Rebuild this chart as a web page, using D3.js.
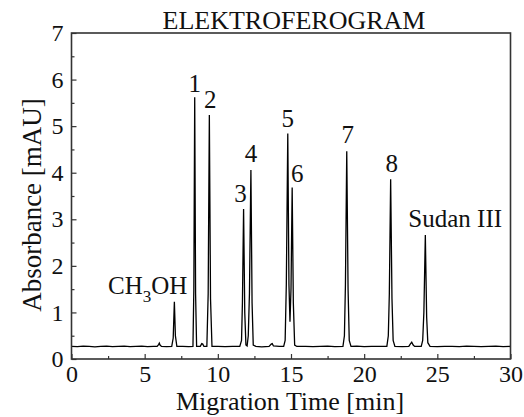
<!DOCTYPE html>
<html>
<head>
<meta charset="utf-8">
<script src="https://cdn.jsdelivr.net/npm/d3@7"></script>
<style>
  html, body { margin: 0; padding: 0; background: #fff; }
  svg { display: block; }
  text { font-family: "Liberation Serif", "Times New Roman", serif; fill: #111; }
</style>
</head>
<body>
<svg id="chart" width="524" height="417"></svg>
<script>
// Electropherogram trace: [migration time (min), absorbance (mAU)]
const trace = [
  [0.0,0.27],[0.4,0.265],[0.8,0.275],[1.2,0.27],[1.6,0.262],[2.0,0.27],[2.4,0.276],
  [2.8,0.265],[3.2,0.27],[3.6,0.275],[4.0,0.265],[4.4,0.27],[4.8,0.276],[5.2,0.265],
  [5.6,0.27],[5.85,0.27],[5.95,0.31],[6.0,0.34],[6.05,0.3],[6.15,0.27],[6.5,0.265],
  [6.85,0.27],[6.95,0.45],[7.03,1.23],[7.1,0.5],[7.2,0.27],[7.6,0.272],[8.0,0.265],
  [8.3,0.27],[8.36,1.5],[8.42,5.62],[8.48,1.4],[8.55,0.27],[8.8,0.27],[8.9,0.33],
  [8.97,0.32],[9.05,0.27],[9.25,0.27],[9.34,1.4],[9.42,5.24],[9.5,1.3],[9.6,0.27],
  [10.0,0.272],[10.5,0.265],[11.0,0.27],[11.5,0.27],[11.62,0.4],[11.68,1.2],[11.76,3.22],
  [11.84,1.0],[11.92,0.3],[12.0,0.28],[12.08,0.5],[12.16,1.4],[12.26,4.06],[12.34,1.2],
  [12.42,0.3],[12.6,0.27],[13.0,0.262],[13.5,0.27],[13.65,0.32],[13.72,0.33],[13.8,0.28],
  [14.2,0.27],[14.5,0.27],[14.6,0.4],[14.68,1.6],[14.78,4.84],[14.86,1.6],[14.93,0.8],
  [15.0,1.5],[15.08,3.68],[15.16,1.2],[15.25,0.3],[15.4,0.27],[16.0,0.272],[16.5,0.265],
  [17.0,0.27],[17.5,0.276],[18.0,0.265],[18.55,0.27],[18.65,0.5],[18.72,1.6],[18.81,4.46],
  [18.9,1.5],[18.98,0.4],[19.1,0.27],[19.5,0.275],[20.0,0.265],[20.5,0.27],[21.0,0.272],
  [21.55,0.27],[21.65,0.5],[21.72,1.4],[21.81,3.86],[21.9,1.3],[21.98,0.4],[22.1,0.27],
  [22.6,0.265],[23.05,0.27],[23.15,0.32],[23.25,0.36],[23.35,0.3],[23.45,0.27],[23.9,0.27],
  [24.0,0.4],[24.08,1.0],[24.18,2.66],[24.27,0.9],[24.35,0.35],[24.5,0.27],[25.0,0.265],
  [25.5,0.272],[26.0,0.27],[26.5,0.265],[27.0,0.275],[27.5,0.27],[28.0,0.265],[28.5,0.27],
  [29.0,0.275],[29.5,0.265],[30.0,0.27]
];

// Labelled peaks
const peakNames   = ["CH3OH", "1", "2", "3", "4", "5", "6", "7", "8", "Sudan III"];
const peakTimes   = [7.03, 8.42, 9.42, 11.76, 12.26, 14.78, 15.08, 18.81, 21.81, 24.18];
const peakHeights = [1.23, 5.62, 5.24, 3.22, 4.06, 4.84, 3.68, 4.46, 3.86, 2.66];

// Axis ticks
const xTicks = [0, 5, 10, 15, 20, 25, 30];
const xMinor = [2.5, 7.5, 12.5, 17.5, 22.5, 27.5];
const yTicks = [0, 1, 2, 3, 4, 5, 6, 7];
const yMinor = [0.5, 1.5, 2.5, 3.5, 4.5, 5.5, 6.5];

const svg = d3.select("#chart");
const L = 71.5, R = 510.5, T = 33, B = 359;

const x = d3.scaleLinear().domain([0, 30]).range([L, R]);
const y = d3.scaleLinear().domain([0, 7]).range([B, T]);

// trace
const line = d3.line().x(d => x(d[0])).y(d => y(d[1]));
svg.append("path")
  .datum(trace)
  .attr("d", line)
  .attr("fill", "none")
  .attr("stroke", "#000")
  .attr("stroke-width", 1.3)
  .attr("stroke-linejoin", "miter");

// axes with inward ticks
const axisColor = "#333";
const xAxis = svg.append("g").attr("transform", `translate(0,${B})`)
  .call(d3.axisBottom(x).tickValues(xTicks).tickSize(-5).tickPadding(6).tickFormat(d3.format("d")));
const xAxisMinor = svg.append("g").attr("transform", `translate(0,${B})`)
  .call(d3.axisBottom(x).tickValues(xMinor).tickSize(-3).tickFormat(""));
const yAxis = svg.append("g").attr("transform", `translate(${L},0)`)
  .call(d3.axisLeft(y).tickValues(yTicks).tickSize(-5).tickPadding(8).tickFormat(d3.format("d")));
const yAxisMinor = svg.append("g").attr("transform", `translate(${L},0)`)
  .call(d3.axisLeft(y).tickValues(yMinor).tickSize(-3).tickFormat(""));

[xAxis, xAxisMinor, yAxis, yAxisMinor].forEach(g => {
  g.select(".domain").remove();
  g.selectAll(".tick line").attr("stroke", axisColor).attr("stroke-width", 1.2);
  g.selectAll(".tick text")
    .attr("font-family", "Liberation Serif, Times New Roman, serif")
    .attr("font-size", 24).attr("fill", "#111");
});
xAxis.selectAll(".tick text").attr("dy", "0.71em");

// plot frame
svg.append("rect")
  .attr("x", L).attr("y", T)
  .attr("width", R - L).attr("height", B - T)
  .attr("fill", "none").attr("stroke", axisColor).attr("stroke-width", 1.6);

// titles
svg.append("text")
  .attr("x", 294).attr("y", 29)
  .attr("text-anchor", "middle").attr("font-size", 26)
  .text("ELEKTROFEROGRAM");

svg.append("text")
  .attr("x", 290).attr("y", 410)
  .attr("text-anchor", "middle").attr("font-size", 26)
  .text("Migration Time [min]");

svg.append("text")
  .attr("transform", "translate(41,205) rotate(-90)")
  .attr("text-anchor", "middle").attr("font-size", 27)
  .text("Absorbance [mAU]");

// peak labels, placed just above each apex
const labelOffsets = {
  "CH3OH":    { dx: 13,  dy: -8, anchor: "end" },
  "1":        { dx: 0,   dy: -5, anchor: "middle" },
  "2":        { dx: 1,   dy: -7, anchor: "middle" },
  "3":        { dx: -3,  dy: -7, anchor: "middle" },
  "4":        { dx: 0,   dy: -8, anchor: "middle" },
  "5":        { dx: 0,   dy: -7, anchor: "middle" },
  "6":        { dx: 5,   dy: -6, anchor: "middle" },
  "7":        { dx: 1,   dy: -8, anchor: "middle" },
  "8":        { dx: 1,   dy: -7, anchor: "middle" },
  "Sudan III":{ dx: -17, dy: -8, anchor: "start" }
};

peakNames.forEach((name, i) => {
  const o = labelOffsets[name];
  const t = svg.append("text")
    .attr("x", x(peakTimes[i]) + o.dx)
    .attr("y", y(peakHeights[i]) + o.dy)
    .attr("text-anchor", o.anchor)
    .attr("font-size", 25);
  if (name === "CH3OH") {
    t.append("tspan").text("CH");
    t.append("tspan").attr("font-size", 17).attr("dy", 8).text("3");
    t.append("tspan").attr("dy", -8).text("OH");
  } else {
    t.text(name);
  }
});
</script>
</body>
</html>
